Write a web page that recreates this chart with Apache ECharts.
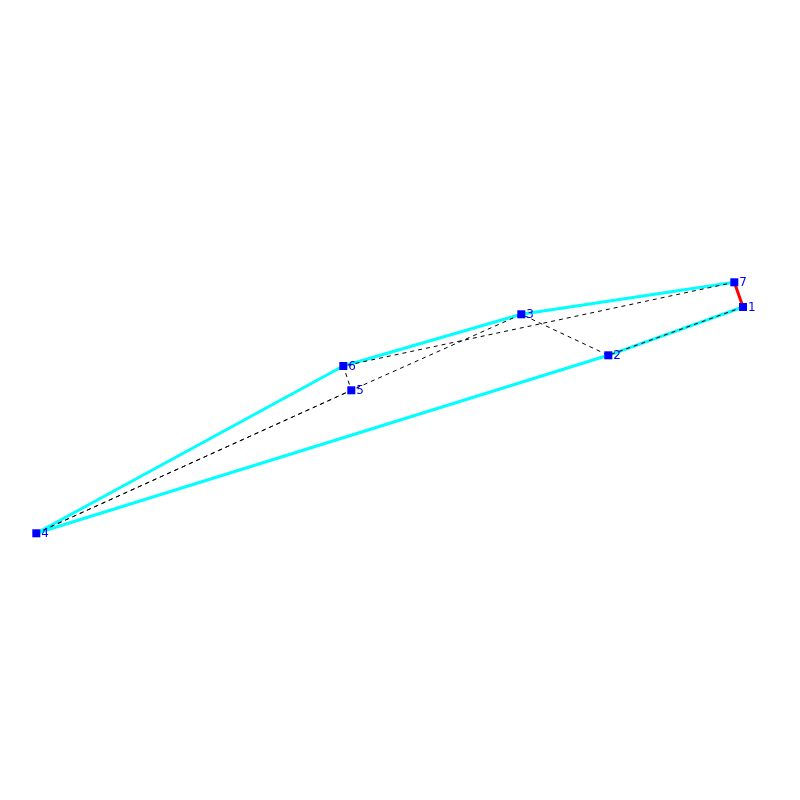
<!DOCTYPE html>
<html>
<head>
<meta charset="utf-8">
<style>html,body{margin:0;padding:0;background:#fff}#c{width:800px;height:800px}</style>
<script src="https://cdn.jsdelivr.net/npm/echarts@6/dist/echarts.min.js"></script>
</head>
<body>
<div id="c"></div>
<script>
const nodeLabels = ['1','2','3','4','5','6','7'];
const nodeX = [743, 608.3, 521.3, 36.3, 351.3, 343.3, 734.3];
const nodeY = [493, 444.7, 485.7, 266.7, 409.7, 434, 517.7];
const hullPath = ['1','2','4','6','3','7'];
const redPath = ['7','1'];
const dashedPathA = ['1','2','3','5','4'];
const dashedPathB = ['4','5','6','7'];

const pt = l => { const i = nodeLabels.indexOf(l); return [nodeX[i], nodeY[i]]; };
const chart = echarts.init(document.getElementById('c'), null, {renderer:'canvas'});
const lineSeries = (path, color, width, type) => ({
  type:'line', data:path.map(pt), showSymbol:false, symbol:'none', silent:true, animation:false,
  lineStyle:{color, width, type}, z:2
});
chart.setOption({
  animation:false,
  backgroundColor:'#ffffff',
  grid:{left:0,right:0,top:0,bottom:0},
  xAxis:{type:'value',min:0,max:800,show:false},
  yAxis:{type:'value',min:0,max:800,show:false},
  series:[
    lineSeries(hullPath,'#00ffff',3,'solid'),
    lineSeries(redPath,'#ff0000',3,'solid'),
    {...lineSeries(dashedPathA,'#000000',1,[4,4]),z:3},
    {...lineSeries(dashedPathB,'#000000',1,[4,4]),z:3},
    {
      type:'scatter', z:4, animation:false, silent:true,
      symbol:'rect', symbolSize:8,
      itemStyle:{color:'#0000ff',opacity:1},
      label:{show:true,position:'right',distance:1,offset:[0,1],color:'#0000ff',fontSize:12,fontFamily:'DejaVu Sans',
        formatter:p=>nodeLabels[p.dataIndex]},
      data:nodeLabels.map(pt)
    }
  ]
});
</script>
</body>
</html>
